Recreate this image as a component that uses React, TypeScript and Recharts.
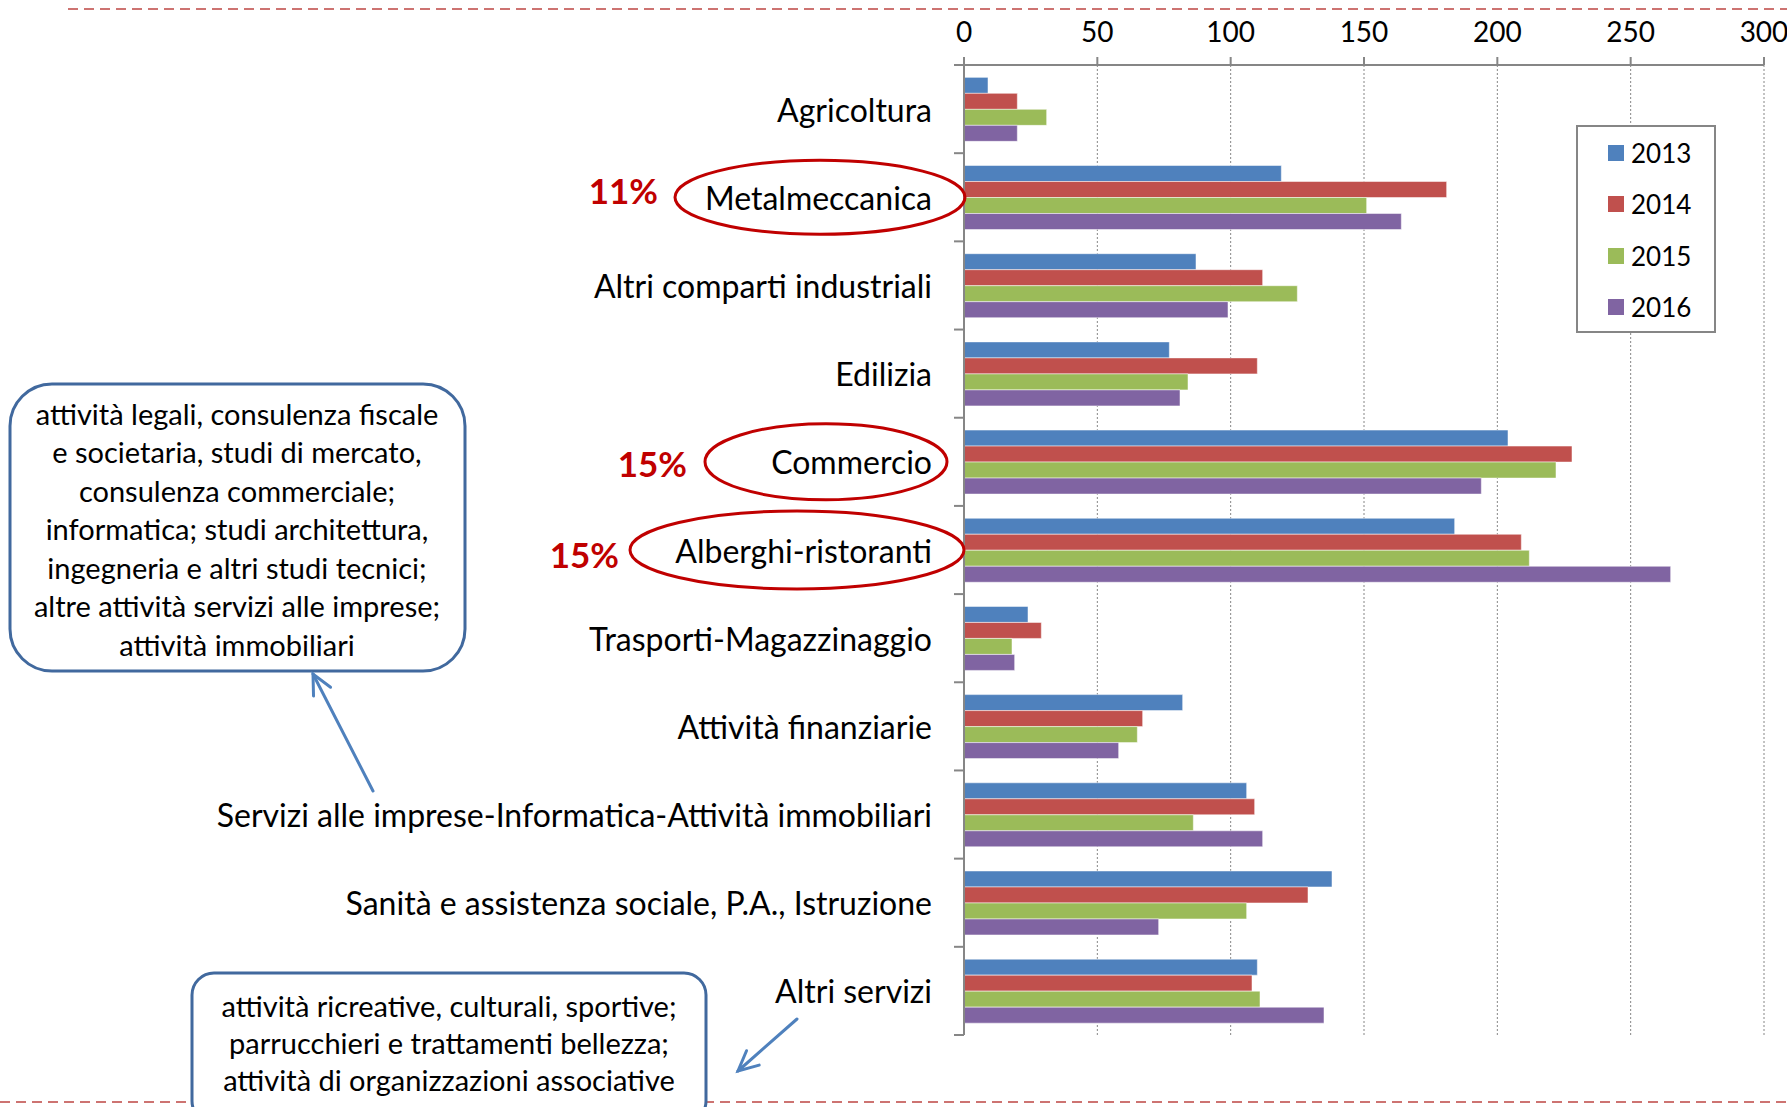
import { Bar, BarChart, CartesianGrid, Legend, XAxis, YAxis } from "recharts";

const categories = [
  "Agricoltura",
  "Metalmeccanica",
  "Altri comparti industriali",
  "Edilizia",
  "Commercio",
  "Alberghi-ristoranti",
  "Trasporti-Magazzinaggio",
  "Attività finanziarie",
  "Servizi alle imprese-Informatica-Attività immobiliari",
  "Sanità e assistenza sociale, P.A., Istruzione",
  "Altri servizi",
];

const years = ["2013", "2014", "2015", "2016"];
const v2013 = [9, 119, 87, 77, 204, 184, 24, 82, 106, 138, 110];
const v2014 = [20, 181, 112, 110, 228, 209, 29, 67, 109, 129, 108];
const v2015 = [31, 151, 125, 84, 222, 212, 18, 65, 86, 106, 111];
const v2016 = [20, 164, 99, 81, 194, 265, 19, 58, 112, 73, 135];
const xTicks = [0, 50, 100, 150, 200, 250, 300];

const highlights = ["Metalmeccanica", "Commercio", "Alberghi-ristoranti"];
const highlightShares = ["11%", "15%", "15%"];

const leftNote = [
  "attività legali, consulenza fiscale",
  "e societaria, studi di mercato,",
  "consulenza commerciale;",
  "informatica; studi architettura,",
  "ingegneria e altri studi tecnici;",
  "altre attività servizi alle imprese;",
  "attività immobiliari",
];
const bottomNote = [
  "attività ricreative, culturali, sportive;",
  "parrucchieri e trattamenti bellezza;",
  "attività di organizzazioni associative",
];

const colors = ["#4F81BD", "#C0504D", "#9BBB59", "#8064A2"];
const series = [v2013, v2014, v2015, v2016];

const data = categories.map((name, i) => {
  const row: Record<string, string | number> = { name };
  years.forEach((y, k) => (row[y] = series[k][i]));
  return row;
});

const W = 1787;
const H = 1107;
const plotLeft = 964;
const plotTop = 65;
const plotBottom = 1035;
const band = (plotBottom - plotTop) / categories.length;
const font = "Lato, 'Open Sans', sans-serif";
const axisGray = "#868686";
const red = "#C00000";
const arrowBlue = "#4F81BD";

// ellipse + percentage placement for highlighted sectors
const ring: Record<string, { cx: number; rx: number; ry: number; pctRight: number; dy: number }> = {
  Metalmeccanica: { cx: 820, rx: 145, ry: 37, pctRight: 658, dy: -7 },
  Commercio: { cx: 826, rx: 121, ry: 38, pctRight: 687, dy: 1 },
  "Alberghi-ristoranti": { cx: 797, rx: 167, ry: 39, pctRight: 619, dy: 4 },
};

function CategoryTick(props: any) {
  const { x, y, payload } = props;
  const name = payload.value as string;
  const idx = categories.indexOf(name);
  const h = highlights.indexOf(name);
  const r = ring[name];
  return (
    <g>
      <line x1={plotLeft - 10} x2={plotLeft} y1={y - band / 2} y2={y - band / 2} stroke={axisGray} strokeWidth={2} />
      {idx === categories.length - 1 && (
        <line x1={plotLeft - 10} x2={plotLeft} y1={y + band / 2} y2={y + band / 2} stroke={axisGray} strokeWidth={2} />
      )}
      {h >= 0 && r && (
        <>
          <ellipse cx={r.cx} cy={y} rx={r.rx} ry={r.ry} fill="none" stroke={red} strokeWidth={3} />
          <text
            x={r.pctRight}
            y={y + r.dy}
            textAnchor="end"
            dominantBaseline="central"
            fontFamily={font}
            fontWeight={700}
            fontSize={35}
            fill={red}
          >
            {highlightShares[h]}
          </text>
        </>
      )}
      <text x={x} y={y} textAnchor="end" dominantBaseline="central" fontFamily={font} fontSize={32} fill="#000">
        {name}
      </text>
    </g>
  );
}

function LegendBox(props: any) {
  const payload = props.payload || [];
  return (
    <div
      style={{
        width: 140,
        height: 208,
        boxSizing: "border-box",
        border: `2px solid ${axisGray}`,
        background: "#fff",
        fontFamily: font,
        fontSize: 26,
      }}
    >
      <div style={{ marginTop: 0 }}>
        {payload.map((p: any) => (
          <div key={p.value} style={{ display: "flex", alignItems: "center", height: 51.5, paddingLeft: 30 }}>
            <span style={{ width: 16, height: 16, background: p.color, display: "inline-block", marginRight: 7 }} />
            <span>{p.value}</span>
          </div>
        ))}
      </div>
    </div>
  );
}

function Arrow({ x1, y1, x2, y2 }: { x1: number; y1: number; x2: number; y2: number }) {
  const a = Math.atan2(y2 - y1, x2 - x1);
  const len = 22;
  const spread = 0.45;
  const p1 = [x2 - len * Math.cos(a - spread), y2 - len * Math.sin(a - spread)];
  const p2 = [x2 - len * Math.cos(a + spread), y2 - len * Math.sin(a + spread)];
  return (
    <g stroke={arrowBlue} strokeWidth={3} fill="none" strokeLinecap="round">
      <line x1={x1} y1={y1} x2={x2} y2={y2} />
      <polyline points={`${p1[0]},${p1[1]} ${x2},${y2} ${p2[0]},${p2[1]}`} />
    </g>
  );
}

export default function App() {
  return (
    <div style={{ position: "absolute", left: 0, top: 0, width: W, height: H, background: "#fff" }}>
      <BarChart
        width={W}
        height={H}
        data={data}
        layout="vertical"
        margin={{ top: 0, right: 23, bottom: 72, left: 0 }}
        barCategoryGap="14%"
        barGap={0}
      >
        <CartesianGrid vertical horizontal={false} stroke={axisGray} strokeDasharray="2 2" />
        <XAxis
          type="number"
          orientation="top"
          domain={[0, 300]}
          ticks={xTicks}
          height={65}
          axisLine={{ stroke: axisGray, strokeWidth: 2 }}
          tickLine={{ stroke: axisGray, strokeWidth: 2 }}
          tickSize={8}
          tickMargin={15}
          tick={{ fontSize: 28, fill: "#000", fontFamily: font }}
        />
        <YAxis
          type="category"
          dataKey="name"
          width={plotLeft}
          interval={0}
          axisLine={{ stroke: axisGray, strokeWidth: 2 }}
          tickLine={false}
          tickSize={0}
          tickMargin={32}
          tick={<CategoryTick />}
        />
        <Legend
          layout="horizontal"
          verticalAlign="middle"
          align="center"
          content={<LegendBox />}
          wrapperStyle={{ position: "absolute", left: 1576, top: 125, width: 140, height: 208 }}
        />
        {years.map((y, k) => (
          <Bar
            key={y}
            dataKey={y}
            fill={colors[k]}
            stroke="#ffffff"
            strokeOpacity={0.5}
            strokeWidth={1}
            isAnimationActive={false}
          />
        ))}
      </BarChart>
      <svg width={W} height={H} style={{ position: "absolute", left: 0, top: 0, pointerEvents: "none" }}>
        <line x1={68} x2={W} y1={9} y2={9} stroke="#C0504D" strokeOpacity={0.8} strokeWidth={2} strokeDasharray="10 6" />
        <line x1={0} x2={W} y1={1102} y2={1102} stroke="#C0504D" strokeOpacity={0.8} strokeWidth={2} strokeDasharray="10 6" />
        <rect x={10} y={384} width={455} height={287} rx={42} fill="#fff" stroke="#41699E" strokeWidth={3} />
        {leftNote.map((t, i) => (
          <text key={i} x={237} y={413 + i * 38.5} textAnchor="middle" dominantBaseline="central" fontFamily={font} fontSize={29} fill="#000">
            {t}
          </text>
        ))}
        <rect x={192} y={973} width={514} height={150} rx={22} fill="#fff" stroke="#41699E" strokeWidth={3} />
        {bottomNote.map((t, i) => (
          <text key={i} x={449} y={1005 + i * 37} textAnchor="middle" dominantBaseline="central" fontFamily={font} fontSize={29} fill="#000">
            {t}
          </text>
        ))}
        <Arrow x1={373} y1={791} x2={313} y2={674} />
        <Arrow x1={797} y1={1019} x2={738} y2={1071} />
      </svg>
    </div>
  );
}
